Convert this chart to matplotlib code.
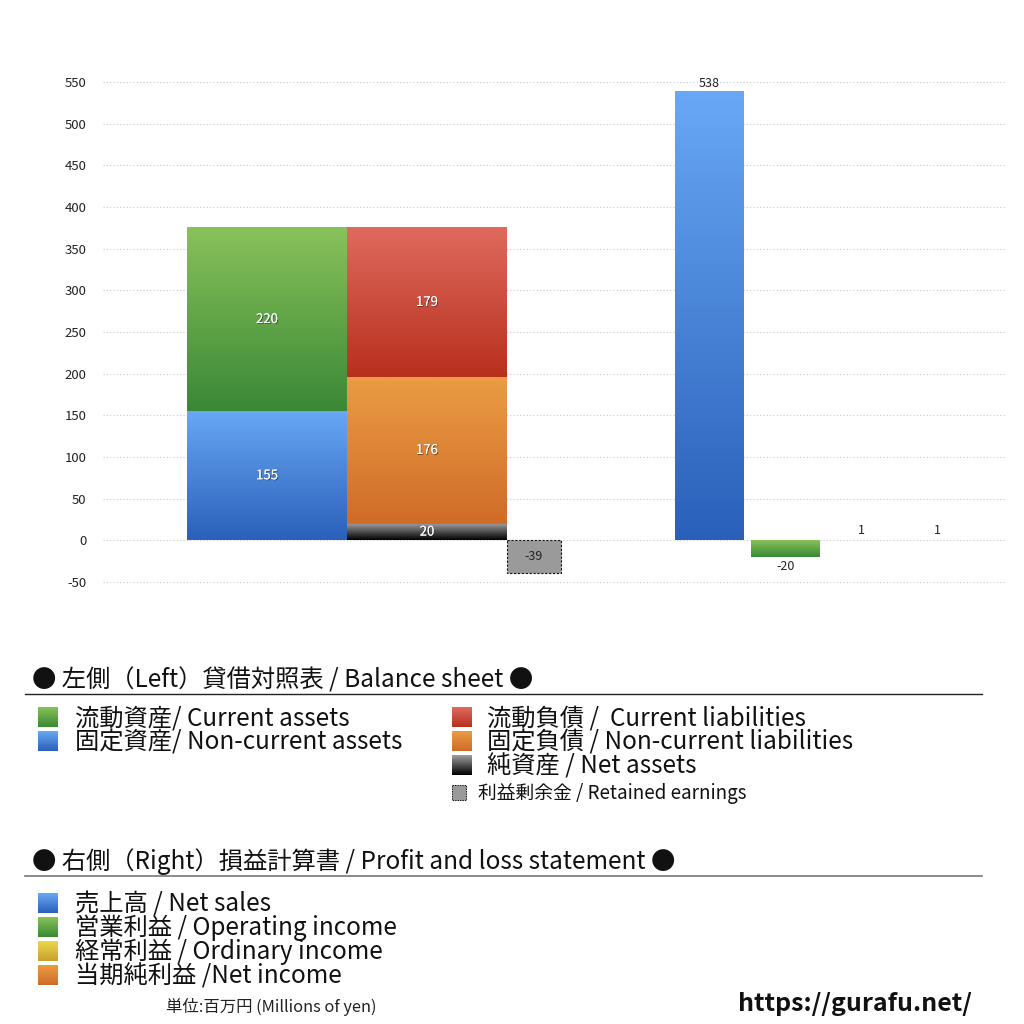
import numpy as np
import matplotlib
matplotlib.use("Agg")
import matplotlib.pyplot as plt
import matplotlib.patheffects as pe
from matplotlib.colors import to_rgb

plt.rcParams['font.family'] = ['Noto Sans CJK JP', 'DejaVu Sans']

# balance sheet (left), millions of yen
assets_labels = ['固定資産', '流動資産']
assets_values = [155, 220]
liab_labels = ['純資産', '固定負債', '流動負債']
liab_values = [20, 176, 179]
retained_earnings = -39

# profit and loss (right)
pl_labels = ['売上高', '営業利益', '経常利益', '当期純利益']
pl_values = [538, -20, 1, 1]

yticks = list(range(-50, 551, 50))

# gradient colours (top, bottom)
GREEN = ('#88c25a', '#3a8836')
BLUE = ('#68a8f4', '#2a60ba')
RED = ('#de6a5e', '#b8301c')
ORANGE = ('#eb9c44', '#cf6c28')
BLACK = ('#a0a0a0', '#000000')
YELLOW = ('#ecd84e', '#c8a02e')
assets_colors = [BLUE, GREEN]
liab_colors = [BLACK, ORANGE, RED]
pl_colors = [BLUE, GREEN, YELLOW, ORANGE]


def grad_rect(ax, x0, w, y0, y1, colors, z=2):
    lo, hi = min(y0, y1), max(y0, y1)
    top = np.array(to_rgb(colors[0]))
    bot = np.array(to_rgb(colors[1]))
    t = np.linspace(0, 1, 128)[:, None]
    img = (top * (1 - t) + bot * t)[:, None, :]
    ax.imshow(img, extent=[x0, x0 + w, lo, hi], aspect='auto',
              origin='upper', zorder=z, interpolation='bilinear')


fig = plt.figure(figsize=(10.24, 10.24), dpi=100)
ax = fig.add_axes([103 / 1024, 0.4275, 904 / 1024, 0.5005])

shadow = [pe.withSimplePatchShadow(offset=(0.6, -0.6), shadow_rgbFace='#222', alpha=0.7),
          pe.Normal()]

# left: assets stack
wide = 1.0
x_assets = 0.525
x_liab = x_assets + wide
bottom = 0
for v, c in zip(assets_values, assets_colors):
    grad_rect(ax, x_assets, wide, bottom, bottom + v, c)
    ax.text(x_assets + wide / 2, bottom + v / 2, str(v), ha='center', va='center',
            color='white', fontsize=9.5, path_effects=shadow, zorder=5)
    bottom += v

bottom = 0
for v, c in zip(liab_values, liab_colors):
    grad_rect(ax, x_liab, wide, bottom, bottom + v, c)
    ax.text(x_liab + wide / 2, bottom + v / 2, str(v), ha='center', va='center',
            color='white', fontsize=9.5, path_effects=shadow, zorder=5)
    bottom += v

# retained earnings
x_ret = x_liab + wide
w_ret = 0.3375
ax.bar(x_ret, retained_earnings, width=w_ret, align='edge', color='#9a9a9a',
       edgecolor='#111', linestyle=(0, (2, 1.5)), linewidth=0.8, zorder=3)
ax.text(x_ret + w_ret / 2, retained_earnings / 2, str(retained_earnings),
        ha='center', va='center', color='#222', fontsize=9, zorder=5)

# right: profit and loss
w_pl = 0.43
x_pl0 = 3.575
step = 0.475
for i, (v, c) in enumerate(zip(pl_values, pl_colors)):
    x0 = x_pl0 + i * step
    if abs(v) > 1:
        grad_rect(ax, x0, w_pl, 0, v, c)
    if v >= 0:
        ax.text(x0 + w_pl / 2, v + (2 if v > 5 else 3), str(v), ha='center',
                va='bottom', fontsize=9, color='#222', zorder=5)
    else:
        ax.text(x0 + w_pl / 2, v - 3, str(v), ha='center', va='top',
                fontsize=9, color='#222', zorder=5)

ax.set_xlim(0, 5.65)
ax.set_ylim(-55, 560)
ax.set_yticks(yticks)
ax.set_yticklabels([str(t) for t in yticks], fontsize=9.5, color='#222')
ax.set_xticks([])
ax.tick_params(axis='y', length=0, pad=12)
for s in ax.spines.values():
    s.set_visible(False)
for t in yticks:
    ax.axhline(t, color='#c8c8c8', linestyle=(0, (1, 2)), linewidth=0.8, zorder=1)

# legend overlay in pixel coordinates
lg = fig.add_axes([0, 0, 1, 1], zorder=10)
lg.set_xlim(0, 1024)
lg.set_ylim(1024, 0)
lg.axis('off')
lg.patch.set_alpha(0)


def swatch(x, y, colors, size=20):
    top = np.array(to_rgb(colors[0]))
    bot = np.array(to_rgb(colors[1]))
    t = np.linspace(0, 1, 64)[:, None]
    img = (top * (1 - t) + bot * t)[:, None, :]
    lg.imshow(img, extent=[x, x + size, y + size / 2, y - size / 2],
              aspect='auto', origin='upper', interpolation='bilinear')


fs_head = 17.5
fs_item = 17.5

lg.text(32, 681, '● 左側（Left）貸借対照表 / Balance sheet ●', fontsize=fs_head,
        va='center', ha='left', color='#111')
lg.plot([25, 982], [694, 694], color='#222', linewidth=1)

left_items = [('流動資産/ Current assets', GREEN), ('固定資産/ Non-current assets', BLUE)]
right_items = [('流動負債 /  Current liabilities', RED),
               ('固定負債 / Non-current liabilities', ORANGE),
               ('純資産 / Net assets', BLACK)]
for i, (txt, c) in enumerate(left_items):
    y = 717 + i * 24
    swatch(38, y, c)
    lg.text(75, y + 1, txt, fontsize=fs_item, va='center', ha='left', color='#111')
for i, (txt, c) in enumerate(right_items):
    y = 717 + i * 24
    swatch(452, y, c)
    lg.text(487, y + 1, txt, fontsize=fs_item, va='center', ha='left', color='#111')

# retained earnings legend
lg.add_patch(plt.Rectangle((452, 785), 14, 15, facecolor='#9a9a9a',
                           edgecolor='#111', linestyle=(0, (1.5, 1)), linewidth=0.7))
lg.text(478, 793, '利益剰余金 / Retained earnings', fontsize=13.5, va='center',
        ha='left', color='#111')

lg.text(32, 862, '● 右側（Right）損益計算書 / Profit and loss statement ●',
        fontsize=fs_head, va='center', ha='left', color='#111')
lg.plot([25, 982], [876, 876], color='#777', linewidth=1.2)

pl_legend = ['売上高 / Net sales', '営業利益 / Operating income',
             '経常利益 / Ordinary income', '当期純利益 /Net income']
for i, (txt, c) in enumerate(zip(pl_legend, pl_colors)):
    y = 903 + i * 24
    swatch(38, y, c)
    lg.text(75, y + 1, txt, fontsize=fs_item, va='center', ha='left', color='#111')

lg.text(166, 1007, '単位:百万円 (Millions of yen)', fontsize=11.8, va='center',
        ha='left', color='#222')
lg.text(972, 1004, 'https://gurafu.net/', fontsize=18, fontweight='bold',
        va='center', ha='right', color='#111')

fig.savefig('out.png', dpi=100)
